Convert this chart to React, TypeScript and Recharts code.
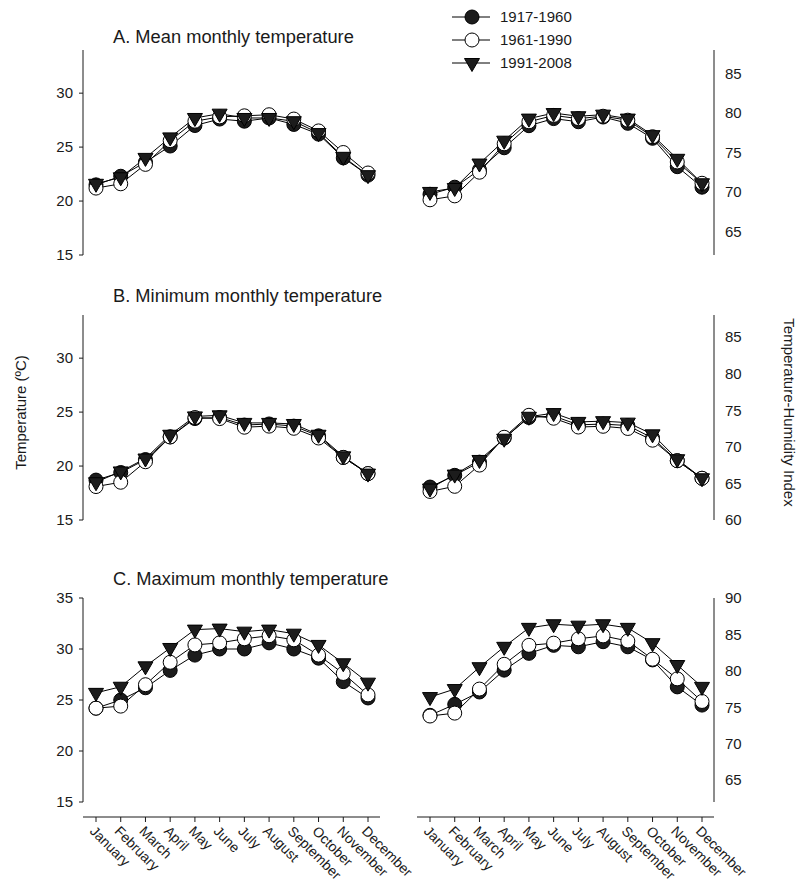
import React from 'react';
import { LineChart, Line, XAxis, YAxis, Label } from 'recharts';

const months = ['January', 'February', 'March', 'April', 'May', 'June', 'July', 'August', 'September', 'October', 'November', 'December'];
const seriesNames = ['1917-1960', '1961-1990', '1991-2008'];

// A. mean monthly temperature (°C) and THI
const meanTemp1917 = [21.5, 22.3, 23.6, 25.1, 27.0, 27.6, 27.4, 27.7, 27.1, 26.2, 24.0, 22.4];
const meanTemp1961 = [21.2, 21.6, 23.4, 25.6, 27.4, 27.8, 27.9, 28.0, 27.6, 26.5, 24.5, 22.6];
const meanTemp1991 = [21.6, 22.2, 24.0, 25.9, 27.7, 28.1, 27.7, 27.7, 27.4, 26.3, 24.1, 22.4];
const meanThi1917 = [69.7, 70.6, 72.8, 75.6, 78.4, 79.3, 78.9, 79.5, 78.7, 76.8, 73.2, 70.6];
const meanThi1961 = [69.0, 69.5, 72.5, 76.1, 78.9, 79.7, 79.3, 79.6, 79.1, 77.0, 73.8, 71.1];
const meanThi1991 = [70.0, 70.5, 73.6, 76.5, 79.3, 80.0, 79.6, 79.8, 79.3, 77.2, 74.2, 71.1];

// B. minimum
const minTemp1917 = [18.7, 19.4, 20.6, 22.7, 24.4, 24.5, 23.8, 23.9, 23.7, 22.8, 20.8, 19.3];
const minTemp1961 = [18.1, 18.5, 20.4, 22.7, 24.5, 24.4, 23.6, 23.7, 23.5, 22.6, 20.8, 19.3];
const minTemp1991 = [18.5, 19.5, 20.7, 22.9, 24.6, 24.7, 24.0, 24.0, 23.9, 22.9, 20.9, 19.3];
const minThi1917 = [64.5, 66.1, 67.9, 71.2, 74.0, 74.2, 73.0, 73.1, 72.9, 71.2, 68.1, 65.7];
const minThi1961 = [63.9, 64.6, 67.5, 71.3, 74.3, 73.9, 72.7, 72.8, 72.5, 70.9, 68.1, 65.7];
const minThi1991 = [64.3, 66.2, 68.2, 71.1, 74.1, 74.6, 73.4, 73.5, 73.3, 71.7, 68.3, 65.7];

// C. maximum
const maxTemp1917 = [24.2, 25.0, 26.2, 27.9, 29.4, 30.0, 30.0, 30.6, 30.0, 29.1, 26.8, 25.2];
const maxTemp1961 = [24.2, 24.4, 26.5, 28.7, 30.4, 30.6, 31.0, 31.3, 30.9, 29.4, 27.6, 25.5];
const maxTemp1991 = [25.7, 26.3, 28.3, 30.1, 31.9, 32.0, 31.7, 31.9, 31.5, 30.4, 28.6, 26.7];
const maxThi1917 = [73.9, 75.4, 77.1, 80.1, 82.4, 83.5, 83.3, 84.0, 83.3, 81.5, 77.8, 75.3];
const maxThi1961 = [73.8, 74.2, 77.5, 80.9, 83.5, 83.8, 84.4, 84.8, 84.1, 81.6, 78.9, 75.8];
const maxThi1991 = [76.4, 77.5, 80.5, 83.3, 85.9, 86.4, 86.2, 86.4, 85.9, 83.8, 80.8, 77.8];

const tempTicks = [15, 20, 25, 30];
const tempTicksC = [15, 20, 25, 30, 35];
const thiTicksA = [65, 70, 75, 80, 85];
const thiTicksB = [60, 65, 70, 75, 80, 85];
const thiTicksC = [65, 70, 75, 80, 85, 90];

const FONT = 'Arial, "Liberation Sans", Helvetica, sans-serif';
const INK = '#1a1a1a';

const build = (a: number[], b: number[], c: number[]) =>
  months.map((month, i) => ({ month, s1: a[i], s2: b[i], s3: c[i] }));

const FilledCircle = ({ cx, cy }: any) => <circle cx={cx} cy={cy} r={7} fill="#1c1c1c" stroke="#000" strokeWidth={1} />;
const OpenCircle = ({ cx, cy }: any) => <circle cx={cx} cy={cy} r={7} fill="#fff" stroke="#000" strokeWidth={1} />;
const TriangleDown = ({ cx, cy }: any) => (
  <path d={`M${cx - 7.5},${cy - 4.5} L${cx + 7.5},${cy - 4.5} L${cx},${cy + 8.5} Z`} fill="#1c1c1c" stroke="#000" strokeWidth={1} />
);
const markers = [FilledCircle, OpenCircle, TriangleDown];

const MonthTick = ({ x, y, payload }: any) => (
  <g transform={`translate(${x},${y + 15})`}>
    <line x1={0} y1={0} x2={0} y2={5} stroke={INK} />
    <text x={0} y={0} transform="translate(-7,15) rotate(45)" textAnchor="start" fontSize={14} fontFamily={FONT} fill={INK}>
      {payload.value}
    </text>
  </g>
);

type PanelProps = {
  side: 'left' | 'right';
  top: number;
  height: number;
  marginTop: number;
  marginBottom: number;
  data: any[];
  domain: [number, number];
  ticks: number[];
  showX?: boolean;
  yLabel?: string;
};

const Panel = ({ side, top, height, marginTop, marginBottom, data, domain, ticks, showX, yLabel }: PanelProps) => {
  const isLeft = side === 'left';
  return (
    <div style={{ position: 'absolute', left: isLeft ? 0 : 400, top }}>
      <LineChart
        width={isLeft ? 460 : 398}
        height={height}
        data={data}
        margin={{ top: marginTop, bottom: marginBottom, left: isLeft ? 0 : 17, right: isLeft ? 80 : 0 }}
      >
        <XAxis
          dataKey="month"
          hide={!showX}
          height={showX ? 85 : 0}
          padding={{ left: 13, right: 12 }}
          interval={0}
          tickSize={0}
          tickMargin={0}
          tickLine={false}
          axisLine={{ stroke: INK, strokeWidth: 1, transform: 'translate(0,15)' }}
          tick={<MonthTick />}
        />
        <YAxis
          orientation={side}
          width={isLeft ? 83 : 84}
          domain={domain}
          ticks={ticks}
          allowDataOverflow
          axisLine={{ stroke: INK, strokeWidth: 1 }}
          tickLine={isLeft ? { stroke: INK } : false}
          tickSize={isLeft ? 4 : 0}
          tickMargin={isLeft ? 6 : 11}
          tick={{ fontSize: 15, fill: INK, fontFamily: FONT }}
        >
          {yLabel && (
            <Label
              content={({ viewBox }: any) => {
                const vb = viewBox || { x: 0, y: 0, width: 0, height: 0 };
                const cx = isLeft ? vb.x + 20 : vb.x + 75;
                const cy = vb.y + vb.height / 2 - 5;
                return (
                  <text
                    x={0}
                    y={0}
                    transform={`translate(${cx},${cy}) rotate(${isLeft ? -90 : 90})`}
                    textAnchor="middle"
                    dominantBaseline="central"
                    fontSize={15}
                    fontFamily={FONT}
                    fill={INK}
                  >
                    {yLabel}
                  </text>
                );
              }}
            />
          )}
        </YAxis>
        {['s1', 's2', 's3'].map((key, i) => {
          const M = markers[i];
          return (
            <Line
              key={key}
              dataKey={key}
              name={seriesNames[i]}
              stroke="#000"
              strokeWidth={1}
              isAnimationActive={false}
              activeDot={false}
              dot={(p: any) => <M key={`${key}-${p.index}`} cx={p.cx} cy={p.cy} />}
            />
          );
        })}
      </LineChart>
    </div>
  );
};

const LegendBlock = () => (
  <div style={{ position: 'absolute', left: 452, top: 5, fontFamily: FONT, fontSize: 15, color: INK }}>
    {seriesNames.map((name, i) => {
      const M = markers[i];
      return (
        <div key={name} style={{ display: 'flex', alignItems: 'center', height: 23 }}>
          <svg width={40} height={20} style={{ display: 'block' }}>
            <line x1={0} y1={10} x2={38} y2={10} stroke="#000" strokeWidth={1} />
            <M cx={20} cy={10} />
          </svg>
          <span style={{ marginLeft: 8 }}>{name}</span>
        </div>
      );
    })}
  </div>
);

const titles = [
  { text: 'A. Mean monthly temperature', y: 43 },
  { text: 'B. Minimum monthly temperature', y: 302 },
  { text: 'C. Maximum monthly temperature', y: 585 },
];

export default function App() {
  return (
    <div style={{ position: 'absolute', left: 0, top: 0, width: 798, height: 887, background: '#fff', fontFamily: FONT, overflow: 'hidden' }}>
      <svg width={798} height={887} style={{ position: 'absolute', left: 0, top: 0 }}>
        {titles.map((t) => (
          <text key={t.text} x={113} y={t.y} fontSize={18.3} fontFamily={FONT} fill={INK}>
            {t.text}
          </text>
        ))}
      </svg>
      <LegendBlock />
      <Panel side="left" top={0} height={280} marginTop={50} marginBottom={25} data={build(meanTemp1917, meanTemp1961, meanTemp1991)} domain={[15, 34]} ticks={tempTicks} />
      <Panel side="right" top={0} height={280} marginTop={50} marginBottom={25} data={build(meanThi1917, meanThi1961, meanThi1991)} domain={[62, 88]} ticks={thiTicksA} />
      <Panel side="left" top={280} height={280} marginTop={35} marginBottom={40} data={build(minTemp1917, minTemp1961, minTemp1991)} domain={[15, 34]} ticks={tempTicks} yLabel="Temperature (ºC)" />
      <Panel side="right" top={280} height={280} marginTop={35} marginBottom={40} data={build(minThi1917, minThi1961, minThi1991)} domain={[60, 88]} ticks={thiTicksB} yLabel="Temperature-Humidity Index" />
      <Panel side="left" top={560} height={327} marginTop={38} marginBottom={0} data={build(maxTemp1917, maxTemp1961, maxTemp1991)} domain={[15, 35]} ticks={tempTicksC} showX />
      <Panel side="right" top={560} height={327} marginTop={38} marginBottom={0} data={build(maxThi1917, maxThi1961, maxThi1991)} domain={[62, 90]} ticks={thiTicksC} showX />
    </div>
  );
}
